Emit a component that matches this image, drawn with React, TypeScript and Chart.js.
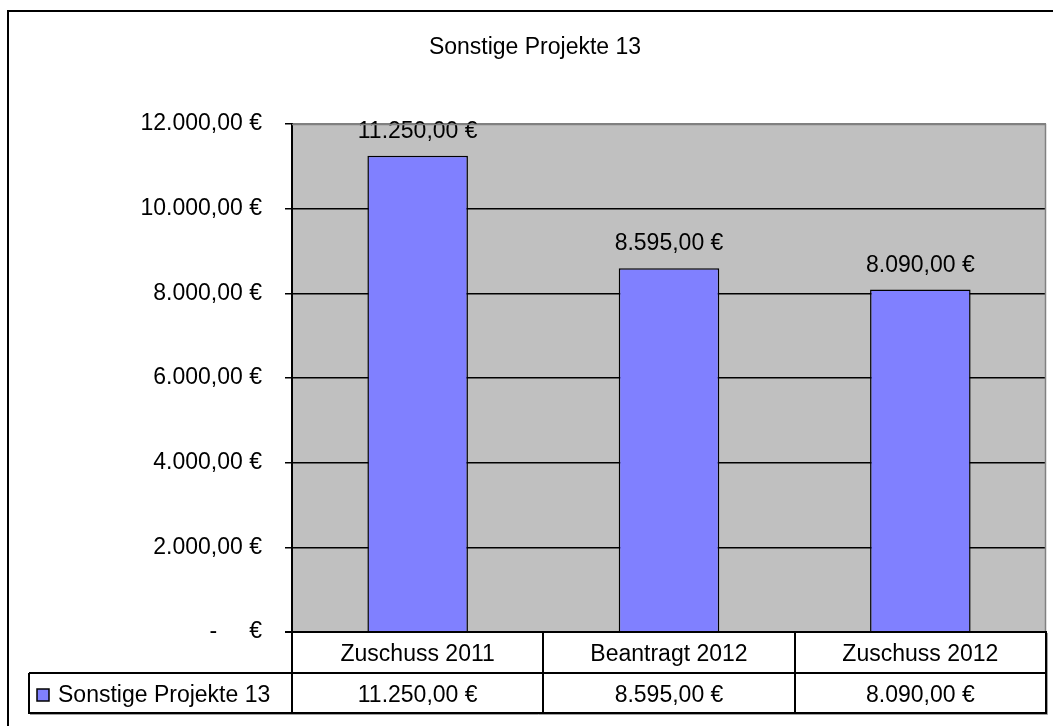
import React, { useEffect, useRef } from 'react';
import { Chart, registerables } from 'chart.js';

Chart.register(...registerables);

const title = 'Sonstige Projekte 13';
const seriesName = 'Sonstige Projekte 13';
const categories = ['Zuschuss 2011', 'Beantragt 2012', 'Zuschuss 2012'];
const values = [11250, 8595, 8090];
const yMin = 0;
const yMax = 12000;
const yStep = 2000;

const FONT = '"Liberation Sans", Arial, sans-serif';
const FS = 23;
const BAR = '#8080FF';

function fmtEuro(v: number): string {
  if (v === 0) return '-     €';
  const [i, d] = v.toFixed(2).split('.');
  const ii = i.replace(/\B(?=(\d{3})+(?!\d))/g, '.');
  return ii + ',' + d + ' €';
}

const excelPlugin = {
  id: 'excelPlugin',
  beforeDraw(chart: any) {
    const { ctx, chartArea: a } = chart;
    ctx.save();
    ctx.fillStyle = '#ffffff';
    ctx.fillRect(0, 0, chart.width, chart.height);
    ctx.fillStyle = '#C0C0C0';
    ctx.fillRect(a.left, a.top, a.right - a.left, a.bottom - a.top);
    ctx.restore();
  },
  afterDatasetsDraw(chart: any) {
    const { ctx } = chart;
    const meta = chart.getDatasetMeta(0);
    ctx.save();
    ctx.font = `${FS}px ${FONT}`;
    ctx.fillStyle = '#000';
    ctx.textAlign = 'center';
    ctx.textBaseline = 'alphabetic';
    meta.data.forEach((bar: any, i: number) => {
      ctx.fillText(fmtEuro(values[i]), bar.x, bar.y - 18);
    });
    ctx.restore();
  },
  afterDraw(chart: any) {
    const { ctx, chartArea: a } = chart;
    const xs = chart.scales.x;
    ctx.save();
    // plot area border (gray top/right)
    ctx.strokeStyle = '#808080';
    ctx.lineWidth = 1.5;
    ctx.beginPath();
    ctx.moveTo(a.left, a.top + 0.5);
    ctx.lineTo(a.right - 0.5, a.top + 0.5);
    ctx.lineTo(a.right - 0.5, a.bottom);
    ctx.stroke();

    // title
    ctx.fillStyle = '#000';
    ctx.font = `${FS}px ${FONT}`;
    ctx.textAlign = 'center';
    ctx.textBaseline = 'alphabetic';
    ctx.fillText(title, 535, 54);

    // outer frame
    ctx.strokeStyle = '#000';
    ctx.lineWidth = 2;
    ctx.strokeRect(8, 11, 3000, 3000);

    // data table
    const n = categories.length;
    const cw = (a.right - a.left) / n;
    const top = Math.round(a.bottom);
    const rowH1 = 41;
    const rowH2 = 40;
    const mid = top + rowH1;
    const bot = mid + rowH2;
    const legLeft = 29;
    const right = Math.round(a.right);

    // shadow
    ctx.strokeStyle = '#a0a0a0';
    ctx.lineWidth = 1;
    ctx.beginPath();
    ctx.moveTo(legLeft + 1, bot + 1.5);
    ctx.lineTo(right + 1.5, bot + 1.5);
    ctx.lineTo(right + 1.5, top + 1);
    ctx.stroke();

    ctx.strokeStyle = '#000';
    ctx.lineWidth = 2;
    ctx.beginPath();
    // horizontal lines
    ctx.moveTo(a.left - 7, top);
    ctx.lineTo(right, top);
    ctx.moveTo(legLeft, mid);
    ctx.lineTo(right, mid);
    ctx.moveTo(legLeft - 1, bot);
    ctx.lineTo(right + 1, bot);
    // legend cell left
    ctx.moveTo(legLeft, mid);
    ctx.lineTo(legLeft, bot);
    // column boundaries
    for (let i = 0; i <= n; i++) {
      const px = i < n ? Math.round(xs.getPixelForValue(i) - cw / 2) : right;
      ctx.moveTo(px, top - 1);
      ctx.lineTo(px, bot + 1);
    }
    ctx.stroke();

    ctx.fillStyle = '#000';
    ctx.font = `${FS}px ${FONT}`;
    ctx.textAlign = 'center';
    categories.forEach((c, i) => {
      const cx = xs.getPixelForValue(i);
      ctx.fillText(c, cx, top + 29);
      ctx.fillText(fmtEuro(values[i]), cx, mid + 29);
    });

    // legend key
    ctx.fillStyle = BAR;
    ctx.fillRect(37, mid + 16, 12, 12);
    ctx.strokeStyle = '#000';
    ctx.lineWidth = 1.5;
    ctx.strokeRect(37, mid + 16, 12, 12);
    ctx.fillStyle = '#000';
    ctx.textAlign = 'left';
    ctx.fillText(seriesName, 58, mid + 29);
    ctx.restore();
  },
};

export default function App() {
  const ref = useRef<HTMLCanvasElement | null>(null);
  useEffect(() => {
    if (!ref.current) return;
    const chart = new Chart(ref.current, {
      type: 'bar',
      data: {
        labels: categories,
        datasets: [
          {
            label: seriesName,
            data: values,
            backgroundColor: BAR,
            borderColor: '#000',
            borderWidth: 1.5,
            categoryPercentage: 1,
            barPercentage: 0.4,
          },
        ],
      },
      options: {
        animation: false,
        responsive: false,
        devicePixelRatio: 1,
        layout: { padding: { top: 124, bottom: 94, left: 0, right: 7 } },
        plugins: {
          legend: { display: false },
          title: { display: false },
          tooltip: { enabled: false },
        },
        scales: {
          x: {
            display: false,
          },
          y: {
            min: yMin,
            max: yMax,
            afterFit(s: any) {
              s.width = 292;
            },
            ticks: {
              stepSize: yStep,
              padding: 23,
              color: '#000',
              font: { family: FONT, size: FS },
              callback: (v: any) => fmtEuro(Number(v)),
            },
            grid: {
              color: (c: any) => (c.tick && c.tick.value === yMax ? '#808080' : '#000'),
              lineWidth: 1.5,
              drawTicks: true,
              tickLength: 7,
              tickColor: '#000',
            },
            border: { display: true, color: '#000', width: 2 },
          },
        },
      },
      plugins: [excelPlugin],
    });
    return () => chart.destroy();
  }, []);
  return (
    <canvas
      ref={ref}
      width={1053}
      height={726}
      style={{ position: 'fixed', left: 0, top: 0, width: 1053, height: 726 }}
    />
  );
}
